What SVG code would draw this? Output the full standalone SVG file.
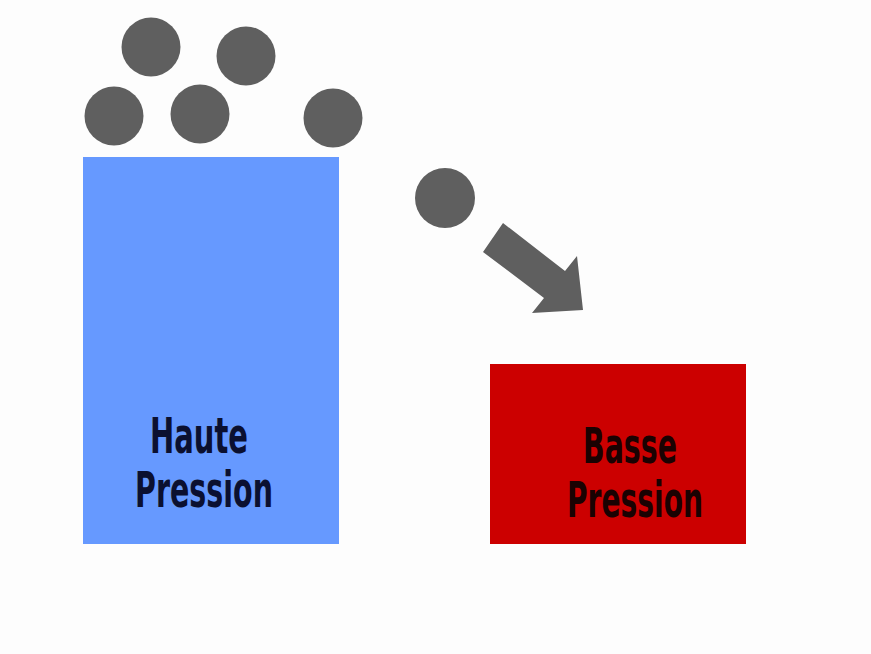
<svg xmlns="http://www.w3.org/2000/svg" width="871" height="654" viewBox="0 0 871 654">
<style>
.ball{fill:#5f5f5f}
.lbl{font-family:"DejaVu Sans Condensed","DejaVu Sans","Liberation Sans Narrow",sans-serif;font-stretch:condensed;font-weight:bold;font-size:50px;text-anchor:middle}
</style>
<rect width="871" height="654" fill="#fdfdfd"/>
<g id="high-pressure">
<rect x="83" y="157" width="256" height="387" fill="#6699ff"/>
<text class="lbl" x="199" y="453" fill="#0b1030" textLength="98" lengthAdjust="spacingAndGlyphs">Haute</text>
<text class="lbl" x="204" y="507" fill="#0b1030" textLength="138" lengthAdjust="spacingAndGlyphs">Pression</text>
</g>
<g id="low-pressure">
<rect x="490" y="364" width="256" height="180" fill="#cc0000"/>
<text class="lbl" x="630" y="463" fill="#1a0202" textLength="94" lengthAdjust="spacingAndGlyphs">Basse</text>
<text class="lbl" x="635" y="517" fill="#1a0202" textLength="136" lengthAdjust="spacingAndGlyphs">Pression</text>
</g>
<g id="particles">
<circle class="ball" cx="151" cy="47" r="29.5"/>
<circle class="ball" cx="246" cy="56" r="29.5"/>
<circle class="ball" cx="114" cy="116" r="29.5"/>
<circle class="ball" cx="200" cy="114" r="29.5"/>
<circle class="ball" cx="333" cy="118" r="29.5"/>
<circle class="ball" cx="445" cy="198" r="30"/>
</g>
<g id="connectors">
<polygon class="ball" points="503,223 565,271 577,256 583,310 532,313 544,298 483,252"/>
</g>
</svg>
